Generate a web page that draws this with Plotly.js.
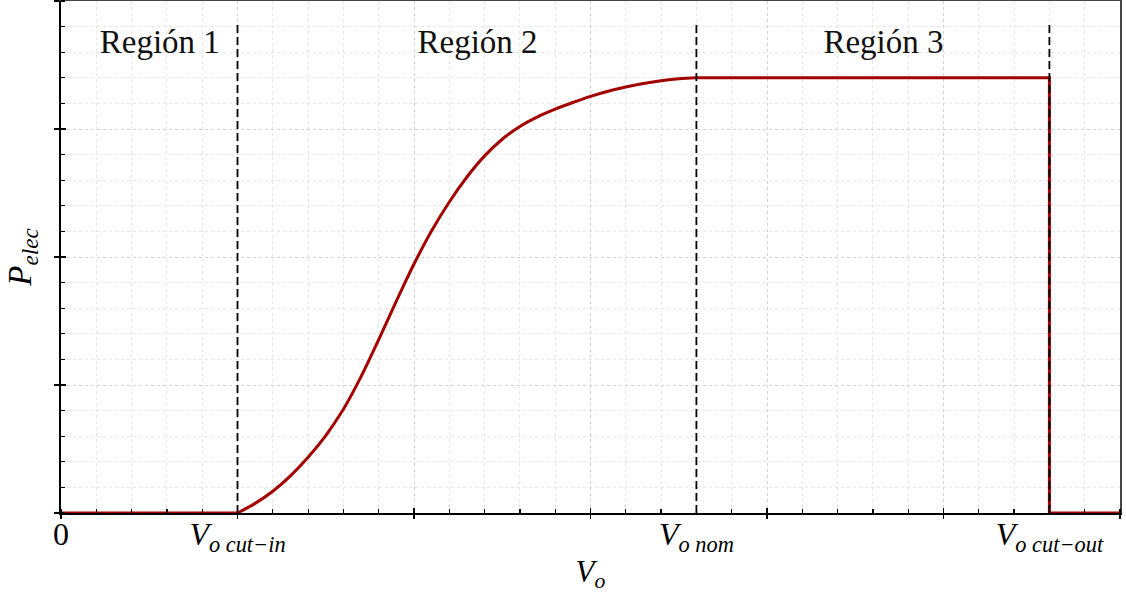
<!DOCTYPE html>
<html>
<head>
<meta charset="utf-8">
<script src="https://cdn.plot.ly/plotly-3.0.1.min.js"></script>
<style>html,body{margin:0;padding:0;background:#fff}</style>
</head>
<body>
<div id="chart" style="width:1126px;height:598px"></div>
<script>
// Wind turbine power curve: electrical power vs. wind speed
const vCutIn = 5;
const vNom = 18;
const vCutOut = 28;
const vMax = 30;
const pNom = 3.4;
const pMax = 4;

// Region 2: power rising from cut-in to nominal speed
const rampV = [5, 5.5, 6, 6.5, 7, 7.5, 8, 8.5, 9, 9.5, 10, 10.5, 11, 11.5, 12, 12.5, 13, 13.5, 14, 14.5, 15, 15.5, 16, 16.5, 17, 17.5, 18];
const rampP = [0, 0.075, 0.17, 0.29, 0.435, 0.605, 0.81, 1.065, 1.355, 1.655, 1.945, 2.205, 2.43, 2.625, 2.79, 2.92, 3.02, 3.095, 3.155, 3.207, 3.255, 3.295, 3.328, 3.355, 3.377, 3.393, 3.40];

// Tick labels on the speed axis
const tickVals = [0, vCutIn, vNom, vCutOut];
const tickText = [
  '0',
  '<i>V</i><sub><i>o cut\u2212in</i></sub>',
  '<i>V</i><sub><i>o nom</i></sub>',
  '<i>V</i><sub><i>o cut\u2212out</i></sub>'
];

// Region captions
const regionNames = ['Región 1', 'Región 2', 'Región 3'];
const regionX = [2.8, 11.8, 23.3];
const regionY = [3.66, 3.66, 3.66];

// Height reached by the dashed separators
const separatorTop = 3.83;
const separatorV = [vCutIn, vNom, vCutOut];

const red = '#a30000';
const serif = 'Liberation Serif, DejaVu Serif, serif';

const traces = [];

// Region 1: no power below cut-in
traces.push({
  x: [0, vCutIn], y: [0, 0],
  mode: 'lines', line: {color: red, width: 3}, hoverinfo: 'skip'
});
// Region 2: smooth ramp
traces.push({
  x: rampV, y: rampP,
  mode: 'lines', line: {color: red, width: 3, shape: 'spline', smoothing: 1}, hoverinfo: 'skip'
});
// Region 3 plateau, then shutdown above cut-out
traces.push({
  x: [vNom, vCutOut, vCutOut, vMax], y: [pNom, pNom, 0, 0],
  mode: 'lines', line: {color: red, width: 3}, hoverinfo: 'skip'
});
// Dashed separators between regions
separatorV.forEach(v => {
  traces.push({
    x: [v, v], y: [0, separatorTop],
    mode: 'lines', line: {color: '#000', width: 1.8, dash: '8px,4px'}, hoverinfo: 'skip'
  });
});
// Region captions
traces.push({
  x: regionX, y: regionY, text: regionNames,
  mode: 'text', textposition: 'middle center',
  textfont: {family: serif, size: 33, color: '#111'}, hoverinfo: 'skip'
});
// Empty traces so the helper axes get their own subplots
traces.push({x: [], y: [], xaxis: 'x2', yaxis: 'y', hoverinfo: 'skip'});
traces.push({x: [], y: [], xaxis: 'x3', yaxis: 'y', hoverinfo: 'skip'});
traces.push({x: [], y: [], xaxis: 'x4', yaxis: 'y', hoverinfo: 'skip'});
traces.push({x: [], y: [], xaxis: 'x', yaxis: 'y2', hoverinfo: 'skip'});
traces.push({x: [], y: [], xaxis: 'x', yaxis: 'y3', hoverinfo: 'skip'});

const gridMajor = '#d2d2d2';
const gridMinor = '#e6e6e6';

const layout = {
  width: 1126, height: 598,
  margin: {l: 61, r: 6, t: 1, b: 85},
  paper_bgcolor: '#fff', plot_bgcolor: '#fff',
  showlegend: false,
  font: {family: serif, color: '#000', size: 28},
  xaxis: {
    range: [0, vMax], tickmode: 'array', tickvals: tickVals, ticktext: tickText,
    ticks: '', showgrid: false, zeroline: false,
    showline: true, linecolor: '#000', linewidth: 2,
    tickfont: {family: serif, size: 32, color: '#000'},
    ticklabelstandoff: -8,
    title: {text: '<i>V</i><sub><i>o</i></sub>', font: {family: serif, size: 31, color: '#000'}, standoff: 4},
    fixedrange: true
  },
  xaxis2: {
    overlaying: 'x', anchor: 'y', range: [0, vMax], tickmode: 'linear', tick0: 0, dtick: 5,
    ticks: 'outside', ticklen: 5, tickwidth: 1.5, tickcolor: '#000',
    showticklabels: false, zeroline: false, showline: false,
    showgrid: true, gridcolor: gridMajor, griddash: 'dot', gridwidth: 1,
    minor: {tick0: 0, dtick: 1, ticks: 'inside', ticklen: 4, tickwidth: 1.2, tickcolor: '#000',
            showgrid: true, gridcolor: gridMinor, griddash: 'dot', gridwidth: 1}
  },
  xaxis3: {
    overlaying: 'x', anchor: 'y', range: [0, vMax], tickmode: 'linear', tick0: 0, dtick: 5,
    ticks: 'inside', ticklen: 5, tickwidth: 1.5, tickcolor: '#000',
    showticklabels: false, showgrid: false, zeroline: false, showline: false
  },
  xaxis4: {
    overlaying: 'x', anchor: 'y', side: 'top', range: [0, vMax],
    ticks: '', showticklabels: false, showgrid: false, zeroline: false,
    showline: true, linecolor: '#444', linewidth: 2
  },
  yaxis: {
    range: [0, pMax], tickmode: 'linear', tick0: 0, dtick: 1,
    ticks: 'outside', ticklen: 5, tickwidth: 1.5, tickcolor: '#000',
    showticklabels: false, zeroline: false,
    showline: true, linecolor: '#000', linewidth: 2,
    showgrid: true, gridcolor: gridMajor, griddash: 'dot', gridwidth: 1,
    minor: {tick0: 0, dtick: 0.2, ticks: 'inside', ticklen: 4, tickwidth: 1.2, tickcolor: '#000',
            showgrid: true, gridcolor: gridMinor, griddash: 'dot', gridwidth: 1},
    title: {text: '<i>P</i><sub><i>elec</i></sub>', font: {family: serif, size: 33, color: '#000'}, standoff: 12},
    fixedrange: true
  },
  yaxis2: {
    overlaying: 'y', anchor: 'x', range: [0, pMax], tickmode: 'linear', tick0: 0, dtick: 1,
    ticks: 'inside', ticklen: 5, tickwidth: 1.5, tickcolor: '#000',
    showticklabels: false, showgrid: false, zeroline: false, showline: false
  },
  yaxis3: {
    overlaying: 'y', anchor: 'x', side: 'right', range: [0, pMax],
    ticks: '', showticklabels: false, showgrid: false, zeroline: false,
    showline: true, linecolor: '#444', linewidth: 2
  }
};

Plotly.newPlot('chart', traces, layout, {displayModeBar: false, staticPlot: true});
</script>
</body>
</html>
